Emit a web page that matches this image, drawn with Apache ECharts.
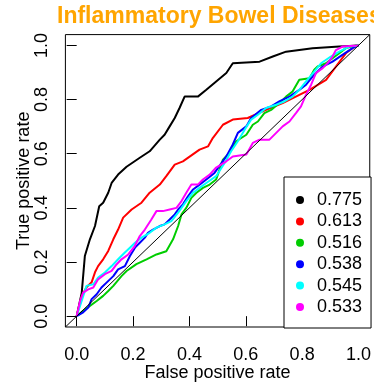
<!DOCTYPE html>
<html><head><meta charset="utf-8">
<script src="https://cdn.jsdelivr.net/npm/echarts@6/dist/echarts.min.js"></script>
<style>html,body{margin:0;padding:0;background:#fff}#c{width:374px;height:387px}</style>
</head><body><div id="c"></div>
<script>
const titleText = 'Inflammatory Bowel Diseases';
const xAxisTitle = 'False positive rate';
const yAxisTitle = 'True positive rate';
const tickValues = [0, 0.2, 0.4, 0.6, 0.8, 1.0];
const aucLabels = ['0.775', '0.613', '0.516', '0.538', '0.545', '0.533'];
const curveColors = ['#000000', '#FF0000', '#00CD00', '#0000FF', '#00FFFF', '#FF00FF'];

const roc775 = [[0,0],[0.018,0.087],[0.029,0.222],[0.047,0.284],[0.065,0.333],[0.080,0.406],[0.094,0.419],[0.112,0.456],[0.124,0.492],[0.147,0.523],[0.177,0.552],[0.224,0.585],[0.259,0.609],[0.295,0.652],[0.312,0.670],[0.330,0.701],[0.348,0.732],[0.365,0.769],[0.383,0.811],[0.430,0.811],[0.460,0.836],[0.495,0.867],[0.531,0.898],[0.554,0.934],[0.649,0.940],[0.696,0.959],[0.743,0.977],[0.837,0.990],[0.932,0.996],[1,1]];
const roc613 = [[0,0],[0.018,0.075],[0.035,0.107],[0.053,0.125],[0.065,0.162],[0.076,0.185],[0.094,0.210],[0.112,0.241],[0.130,0.284],[0.147,0.320],[0.165,0.364],[0.195,0.394],[0.230,0.419],[0.259,0.456],[0.295,0.486],[0.318,0.517],[0.348,0.560],[0.377,0.572],[0.436,0.615],[0.466,0.627],[0.483,0.658],[0.519,0.707],[0.554,0.726],[0.607,0.732],[0.672,0.762],[0.731,0.787],[0.826,0.836],[0.885,0.873],[0.920,0.922],[0.955,0.971],[0.991,1.0],[1,1]];
const roc516 = [[0,0],[0.023,0.020],[0.047,0.038],[0.071,0.056],[0.094,0.075],[0.112,0.093],[0.130,0.112],[0.159,0.148],[0.177,0.167],[0.212,0.192],[0.248,0.210],[0.283,0.228],[0.318,0.240],[0.342,0.284],[0.360,0.333],[0.372,0.376],[0.389,0.400],[0.407,0.437],[0.425,0.456],[0.448,0.474],[0.472,0.486],[0.495,0.505],[0.519,0.578],[0.542,0.603],[0.566,0.646],[0.602,0.670],[0.625,0.707],[0.643,0.719],[0.666,0.750],[0.690,0.762],[0.719,0.787],[0.743,0.811],[0.766,0.830],[0.790,0.873],[0.826,0.879],[0.843,0.910],[0.855,0.922],[0.885,0.934],[0.908,0.953],[0.932,0.971],[0.955,0.990],[0.991,1],[1,1]];
const roc538 = [[0,0],[0.023,0.014],[0.041,0.032],[0.053,0.063],[0.071,0.081],[0.088,0.106],[0.106,0.124],[0.130,0.148],[0.147,0.173],[0.171,0.185],[0.189,0.222],[0.207,0.253],[0.224,0.271],[0.242,0.290],[0.253,0.308],[0.271,0.320],[0.295,0.333],[0.312,0.339],[0.330,0.357],[0.348,0.376],[0.360,0.394],[0.377,0.413],[0.395,0.443],[0.413,0.468],[0.436,0.486],[0.460,0.505],[0.489,0.529],[0.531,0.590],[0.554,0.634],[0.572,0.677],[0.602,0.701],[0.619,0.732],[0.655,0.762],[0.690,0.775],[0.719,0.793],[0.755,0.811],[0.790,0.836],[0.814,0.855],[0.837,0.885],[0.873,0.922],[0.908,0.940],[0.943,0.965],[0.979,0.990],[1,1]];
const roc545 = [[0,0],[0.012,0.038],[0.035,0.112],[0.059,0.118],[0.076,0.143],[0.100,0.161],[0.124,0.185],[0.147,0.210],[0.171,0.235],[0.189,0.253],[0.207,0.271],[0.230,0.290],[0.259,0.308],[0.283,0.327],[0.312,0.339],[0.336,0.351],[0.360,0.382],[0.389,0.425],[0.413,0.456],[0.436,0.474],[0.460,0.492],[0.495,0.517],[0.525,0.566],[0.548,0.609],[0.572,0.646],[0.596,0.689],[0.619,0.726],[0.643,0.744],[0.672,0.769],[0.708,0.781],[0.737,0.793],[0.766,0.811],[0.790,0.836],[0.814,0.867],[0.843,0.903],[0.867,0.934],[0.902,0.959],[0.932,0.977],[0.967,0.996],[1,1]];
const roc533 = [[0,0],[0.012,0.056],[0.023,0.087],[0.041,0.099],[0.059,0.106],[0.076,0.136],[0.100,0.155],[0.124,0.167],[0.142,0.192],[0.159,0.210],[0.183,0.228],[0.206,0.259],[0.224,0.296],[0.242,0.320],[0.265,0.357],[0.283,0.388],[0.306,0.388],[0.330,0.394],[0.354,0.400],[0.372,0.425],[0.389,0.456],[0.407,0.486],[0.430,0.486],[0.448,0.505],[0.472,0.523],[0.495,0.549],[0.531,0.572],[0.554,0.590],[0.602,0.597],[0.625,0.640],[0.649,0.652],[0.684,0.652],[0.708,0.677],[0.731,0.701],[0.755,0.719],[0.778,0.750],[0.796,0.775],[0.814,0.818],[0.832,0.855],[0.849,0.898],[0.873,0.916],[0.890,0.934],[0.908,0.959],[0.920,0.983],[0.943,0.996],[1,1]];
const diagonal = [[-0.04,-0.04],[1.04,1.04]];

const curves = [roc775, roc613, roc516, roc538, roc545, roc533];
const FONT = '"Liberation Sans", Arial, Helvetica, sans-serif';

const chart = echarts.init(document.getElementById('c'), null, {renderer: 'canvas'});
const series = curves.map((d, i) => ({
  name: aucLabels[i], type: 'line', data: d, symbol: 'none', silent: true,
  lineStyle: {color: curveColors[i], width: 2}, itemStyle: {color: curveColors[i]},
  z: 2 + i, animation: false
}));
series.push({name: 'diag', type: 'line', data: diagonal, symbol: 'none', silent: true,
  lineStyle: {color: '#000', width: 1}, z: 10, animation: false});

chart.setOption({
  animation: false,
  backgroundColor: '#fff',
  title: {text: titleText, left: 57, top: 5, padding: 0,
    textStyle: {color: '#FFA500', fontSize: 23, fontWeight: 'bold', fontFamily: FONT}},
  grid: {left: 65.4, right: 3.4, top: 34.6, bottom: 59, show: true, borderColor: '#000', borderWidth: 1, backgroundColor: 'transparent', containLabel: false},
  xAxis: {type: 'value', min: -0.04, max: 1.04,
    name: xAxisTitle, nameLocation: 'middle', nameGap: 37, nameMoveOverlap: false,
    nameTextStyle: {fontSize: 18, color: '#000', fontFamily: FONT},
    axisLine: {show: false}, splitLine: {show: false},
    axisTick: {show: true, length: 10, lineStyle: {color: '#000', width: 1}, customValues: tickValues},
    axisLabel: {fontSize: 18, color: '#000', fontFamily: FONT, margin: 19.5, customValues: tickValues,
      formatter: v => v.toFixed(1)}},
  yAxis: {type: 'value', min: -0.04, max: 1.04,
    name: yAxisTitle, nameLocation: 'middle', nameGap: 32, nameRotate: 90, nameMoveOverlap: false,
    nameTextStyle: {fontSize: 18, color: '#000', fontFamily: FONT},
    axisLine: {show: false}, splitLine: {show: false},
    axisTick: {show: true, length: 10, lineStyle: {color: '#000', width: 1}, customValues: tickValues},
    axisLabel: {fontSize: 18, color: '#000', fontFamily: FONT, margin: 14, rotate: 90, customValues: tickValues,
      formatter: v => v.toFixed(1)}},
  legend: {data: aucLabels, orient: 'vertical', left: 284, top: 177,
    padding: [14, 9, 12, 12], itemWidth: 8, itemHeight: 8, itemGap: 3.4, icon: 'circle',
    backgroundColor: '#fff', borderColor: '#000', borderWidth: 1, borderRadius: 0,
    selectedMode: false, z: 20,
    textStyle: {fontSize: 18, lineHeight: 18, color: '#000', fontFamily: FONT, padding: [0, 0, 0, 8]}},
  series: series
});
</script></body></html>
